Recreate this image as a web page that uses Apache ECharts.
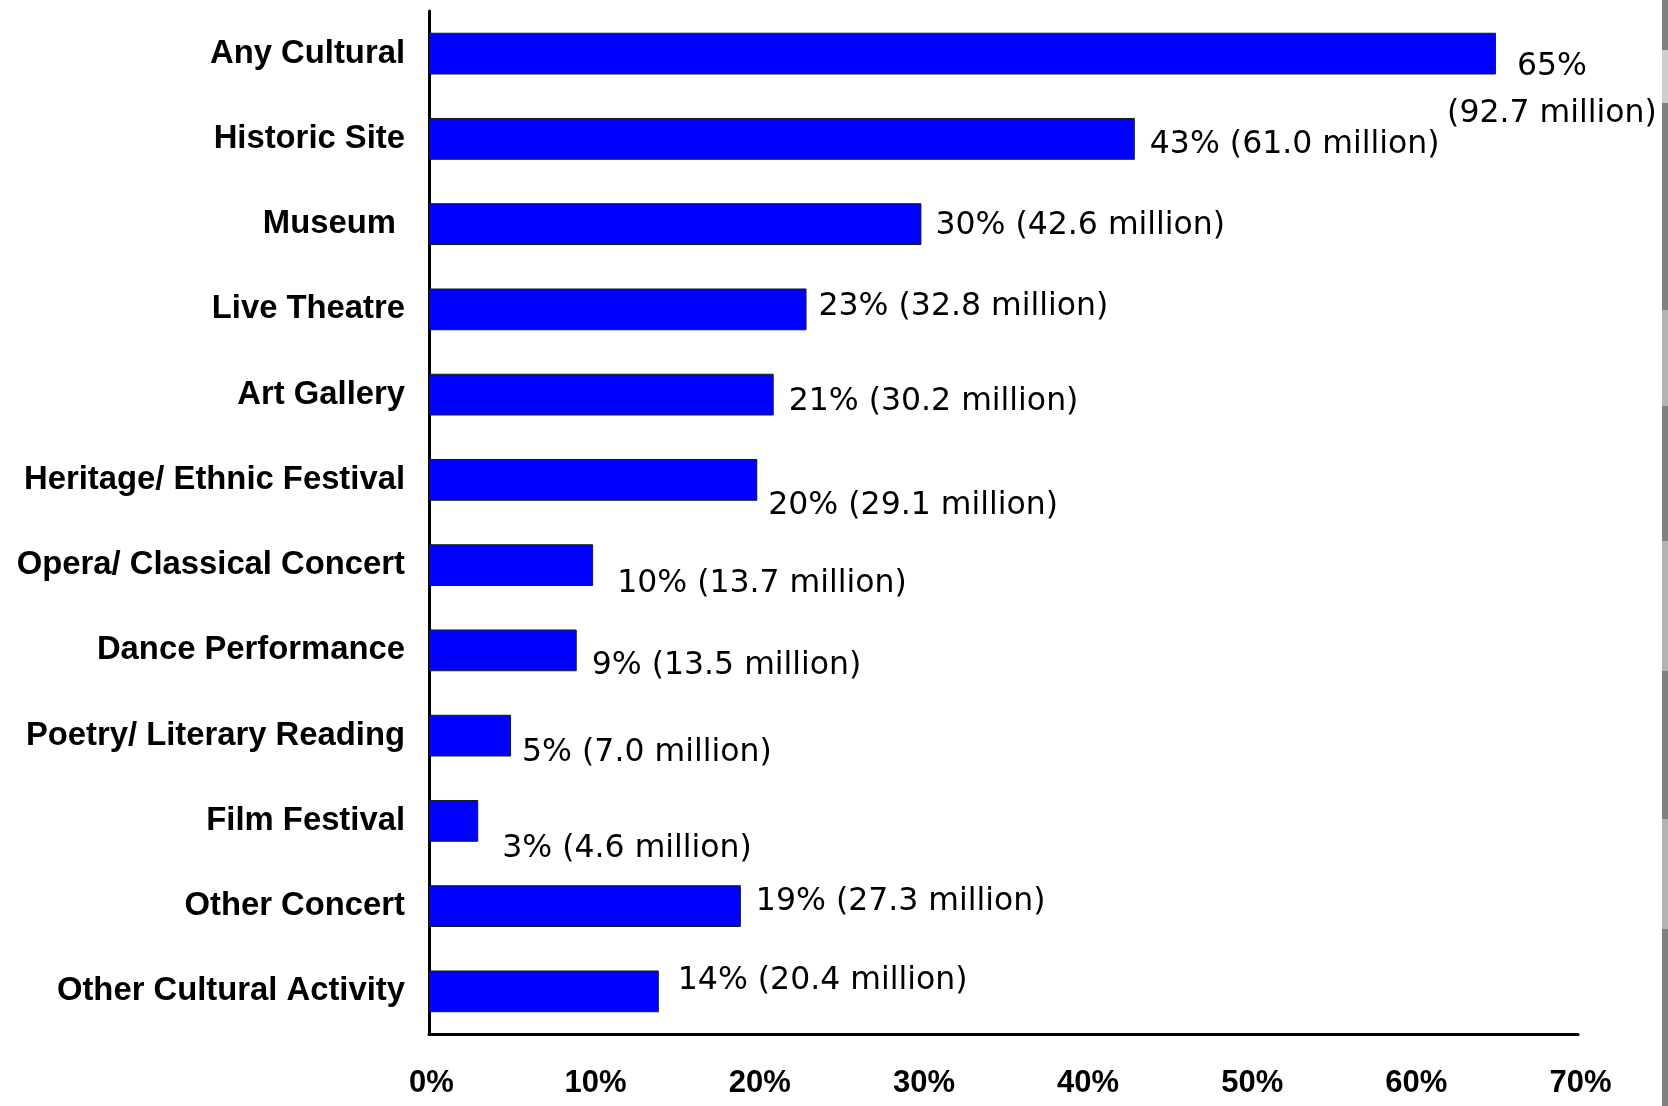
<!DOCTYPE html>
<html>
<head>
<meta charset="utf-8">
<script src="https://cdn.jsdelivr.net/npm/echarts@6/dist/echarts.min.js"></script>
<style>
  html, body { margin: 0; padding: 0; background: #ffffff; }
  #chart { width: 1668px; height: 1106px; }
</style>
</head>
<body>
<div id="chart"></div>
<script>
// ---- data ----
var categories = [
  'Any Cultural', 'Historic Site', 'Museum ', 'Live Theatre', 'Art Gallery',
  'Heritage/ Ethnic Festival', 'Opera/ Classical Concert', 'Dance Performance',
  'Poetry/ Literary Reading', 'Film Festival', 'Other Concert', 'Other Cultural Activity'
];
var percentValues = [65, 43, 30, 23, 21, 20, 10, 9, 5, 3, 19, 14];
var millionsValues = [92.7, 61.0, 42.6, 32.8, 30.2, 29.1, 13.7, 13.5, 7.0, 4.6, 27.3, 20.4];
var xTickValues = [0, 10, 20, 30, 40, 50, 60, 70];

// ---- label layout (hand-placed labels in the original, [dx, dy] in px) ----
var labelNudges = [
  [51, 37], [10, 6], [9, 2], [7, -3], [10, 7], [6, 26],
  [19, 19], [10, 15], [6, 17], [19, 28], [10, -4], [14, -11]
];

var seriesData = percentValues.map(function (v, i) {
  var item = { value: v, label: { offset: labelNudges[i] } };
  if (i === 0) {
    item.label.align = 'center';
    item.label.lineHeight = 47;
  }
  return item;
});

var chart = echarts.init(document.getElementById('chart'), null, { renderer: 'canvas' });

var stripe = [
  [0, 50, '#808080'], [50, 103, '#cdcdcd'], [103, 310, '#808080'],
  [310, 406, '#b3b3b3'], [406, 541, '#808080'], [541, 671, '#b3b3b3'],
  [671, 819, '#808080'], [819, 929, '#b3b3b3'], [929, 1106, '#808080']
];

chart.setOption({
  backgroundColor: '#ffffff',
  animation: false,
  grid: { left: 429, right: 90, top: 11, bottom: 72, containLabel: false },
  xAxis: {
    type: 'value',
    min: xTickValues[0],
    max: xTickValues[xTickValues.length - 1],
    interval: xTickValues[1] - xTickValues[0],
    axisLine: { show: true, lineStyle: { color: '#000000', width: 3 } },
    axisTick: { show: false },
    splitLine: { show: false },
    axisLabel: {
      formatter: '{value}%',
      color: '#000000',
      fontFamily: 'Liberation Sans, Arial, sans-serif',
      fontWeight: 'bold',
      fontSize: 31,
      margin: 34,
      padding: [0, 0, 0, 5]
    }
  },
  yAxis: {
    type: 'category',
    inverse: true,
    data: categories,
    axisLine: { show: true, lineStyle: { color: '#000000', width: 3 } },
    axisTick: { show: false },
    splitLine: { show: false },
    axisLabel: {
      color: '#000000',
      fontFamily: 'Liberation Sans, Arial, sans-serif',
      fontWeight: 'bold',
      fontSize: 32.8,
      margin: 24,
      padding: [2, 0, 0, 0]
    }
  },
  series: [{
    type: 'bar',
    data: seriesData,
    barWidth: '49%',
    itemStyle: { color: '#0000ff', borderColor: '#1a1a1a', borderWidth: 1 },
    label: {
      show: true,
      position: 'right',
      distance: 5,
      color: '#000000',
      fontFamily: 'DejaVu Sans, sans-serif',
      fontSize: 31.5,
      formatter: function (p) {
        var i = p.dataIndex;
        var txt = percentValues[i] + '%';
        var m = '(' + millionsValues[i].toFixed(1) + ' million)';
        return i === 0 ? txt + '\n' + m : txt + ' ' + m;
      }
    }
  }],
  graphic: stripe.map(function (s) {
    return {
      type: 'rect',
      silent: true,
      shape: { x: 1662, y: s[0], width: 6, height: s[1] - s[0] },
      style: { fill: s[2] }
    };
  })
});
</script>
</body>
</html>
